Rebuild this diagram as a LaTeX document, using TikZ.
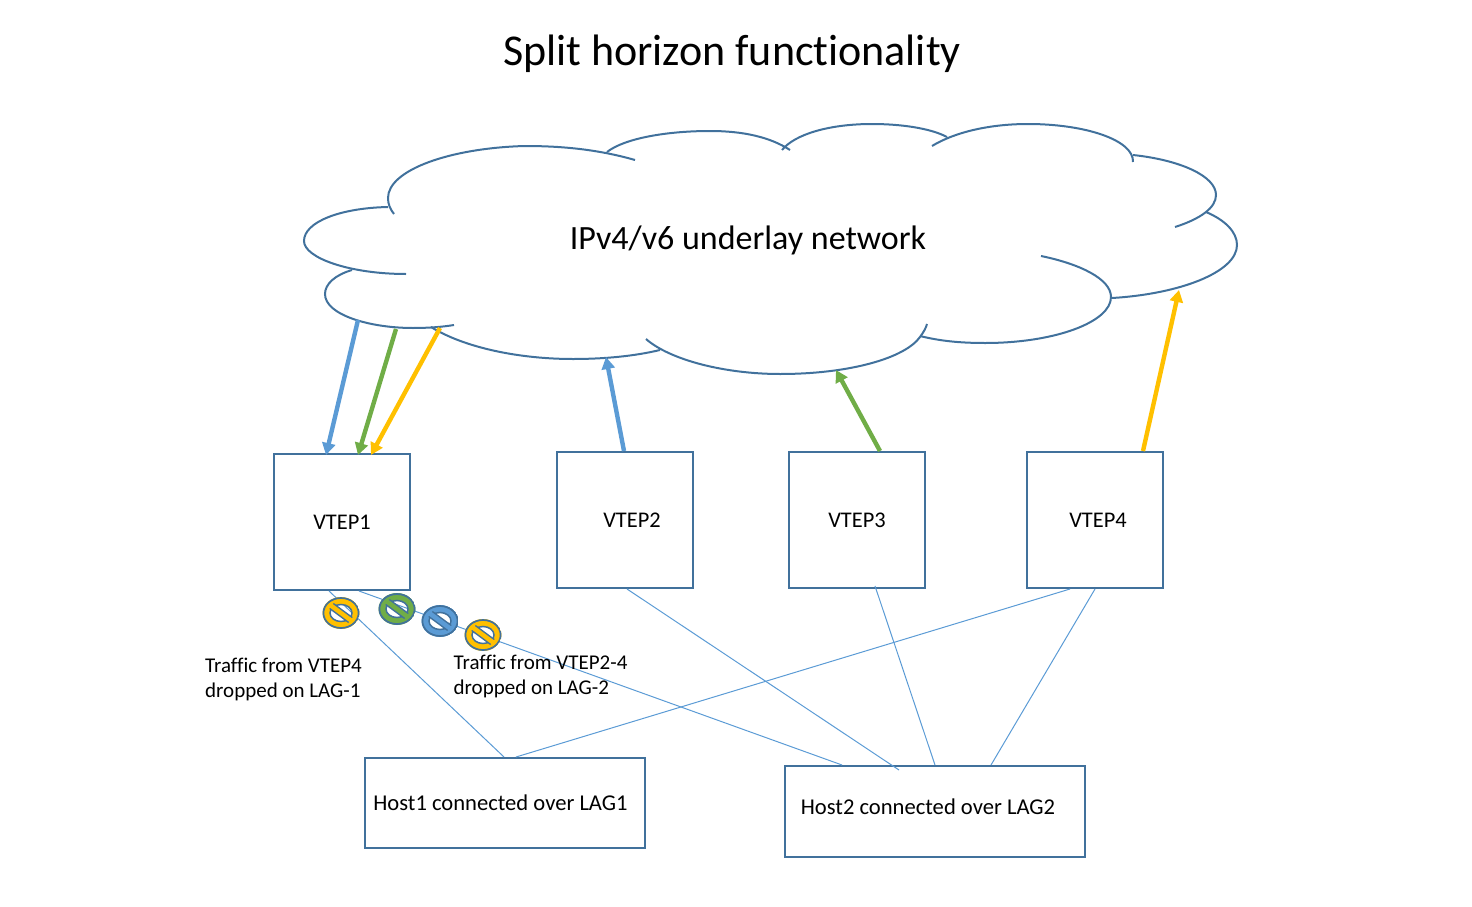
\documentclass[tikz,border=0pt]{standalone}
\usepackage{fontspec}
\setmainfont[RawFeature={-liga}]{Carlito}
\usetikzlibrary{shapes,arrows.meta,calc}
\definecolor{outline}{HTML}{41719C}
\definecolor{wireblue}{HTML}{5B9BD5}
\definecolor{flowgreen}{HTML}{70AD47}
\definecolor{flowyellow}{HTML}{FFC000}
\tikzset{
    vtepbox/.style={draw=outline, line width=2pt, minimum width=136pt, minimum height=136pt, inner sep=0pt, font=\fontsize{22.4}{26}\selectfont},
    hostbox/.style={draw=outline, line width=2pt, inner sep=0pt, font=\fontsize{22.6}{26}\selectfont},
    note/.style={align=left, anchor=west, inner sep=0pt, font=\fontsize{21}{25}\selectfont},
    cloudline/.style={draw=outline, line width=2pt},
    wire/.style={draw=wireblue, line width=1pt},
    flow/.style={line width=4.4pt, -{Triangle[length=12pt,width=13pt]}},
    nosign/.style={ellipse, minimum width=37pt, minimum height=32pt, inner sep=0pt, path picture={
        \fill[#1, even odd rule] (path picture bounding box.center) ellipse (18.5pt and 16pt) (path picture bounding box.center) ellipse (11pt and 8.5pt);
        \draw[outline, line width=1.7pt] (path picture bounding box.center) ellipse (17.6pt and 15pt);
        \draw[outline, line width=1.5pt] (path picture bounding box.center) ellipse (11pt and 8.5pt);
        \draw[outline, line width=7.5pt] (path picture bounding box.center) +(-9.5pt,7pt) -- +(9.5pt,-7pt);
        \draw[#1, line width=4.5pt] (path picture bounding box.center) +(-12pt,8.9pt) -- +(12pt,-8.9pt);
    }}
}
\begin{document}
\begin{tikzpicture}[x=1pt, y=-1pt]
    \useasboundingbox (0,0) rectangle (1472,907);

    \node (title) at (732,54) {\fontsize{44}{52}\selectfont Split horizon functionality};

    % cloud, one arc after the other
    \draw[cloudline] (635,160) .. controls (600,150) and (565,146) .. (525,146) .. controls (450,148) and (388,170) .. (388,198) .. controls (388,204) and (390,209) .. (394,214);
    \draw[cloudline] (388,207) .. controls (340,208) and (304,222) .. (304,241) .. controls (304,258) and (350,274) .. (406,274);
    \draw[cloudline] (352,270) .. controls (335,275) and (325,284) .. (325,294) .. controls (325,315) and (370,328) .. (413,328) .. controls (428,328) and (442,327) .. (454,325);
    \draw[cloudline] (431,327) .. controls (465,348) and (520,359) .. (573,359) .. controls (605,359) and (635,356) .. (660,350);
    \draw[cloudline] (646,339) .. controls (670,360) and (725,374) .. (780,374) .. controls (850,374) and (905,358) .. (920,337) .. controls (923,333) and (926,328) .. (927,324);
    \draw[cloudline] (920,336) .. controls (940,341) and (960,343) .. (985,343) .. controls (1055,343) and (1111,322) .. (1111,297) .. controls (1111,279) and (1080,264) .. (1041,256);
    \draw[cloudline] (1112,298) .. controls (1180,294) and (1237,272) .. (1237,245) .. controls (1237,232) and (1225,220) .. (1206,212);
    \draw[cloudline] (1175,227) .. controls (1200,219) and (1216,208) .. (1216,195) .. controls (1216,176) and (1180,160) .. (1133,155);
    \draw[cloudline] (1133,162) .. controls (1134,140) and (1085,124) .. (1028,124) .. controls (990,124) and (955,132) .. (932,146);
    \draw[cloudline] (947,137) .. controls (930,128) and (900,124) .. (872,124) .. controls (830,124) and (795,134) .. (782,150);
    \draw[cloudline] (607,152) .. controls (625,138) and (668,131) .. (710,131) .. controls (743,131) and (770,137) .. (790,150);
    \node (underlay) at (748,240) {\fontsize{34}{40}\selectfont IPv4/v6 underlay network};

    % ends of the arrows on the cloud
    \coordinate (c1) at (358,320);
    \coordinate (c2) at (396,329);
    \coordinate (c3) at (440,328);
    \coordinate (c4) at (606,357);
    \coordinate (c5) at (836,370);
    \coordinate (c6) at (1179,290);

    \node[vtepbox] (vtep1) at (342,522) {VTEP1};
    \node[vtepbox] (vtep2) at (625,520) {\hspace{14pt}VTEP2};
    \node[vtepbox] (vtep3) at (857,520) {VTEP3};
    \node[vtepbox] (vtep4) at (1095,520) {\hspace{6pt}VTEP4};
    \node[hostbox, minimum width=280pt, minimum height=90pt] (host1) at (505,803) {Host1 connected over LAG1\hspace{9pt}\null};
    \node[hostbox, minimum width=300pt, minimum height=91pt] (host2) at (935,811.5) {\raisebox{-3pt}[0pt][0pt]{Host2 connected over LAG2}\hspace{14pt}\null};

    \draw[wire] ([xshift=56pt]vtep1.south west) -- ([xshift=140pt]host1.north west);
    \draw[wire] ([xshift=86pt]vtep1.south west) -- ([xshift=58pt]host2.north west);
    \draw[wire] ([xshift=71pt]vtep2.south west) -- ([xshift=115pt,yshift=-5pt]host2.north west);
    \draw[wire] ([xshift=87pt,yshift=3pt]vtep3.south west) -- ([xshift=151pt]host2.north west);
    \draw[wire] ([xshift=44pt]vtep4.south west) -- ([xshift=152pt]host1.north west);
    \draw[wire] ([xshift=69pt]vtep4.south west) -- ([xshift=207pt]host2.north west);

    \draw[flow, wireblue] (c1) -- ([xshift=53pt,yshift=-2pt]vtep1.north west);
    \draw[flow, flowgreen] (c2) -- ([xshift=85pt,yshift=-2pt]vtep1.north west);
    \draw[flow, flowyellow] (c3) -- ([xshift=98pt,yshift=-2pt]vtep1.north west);
    \draw[flow, wireblue] ([xshift=68pt]vtep2.north west) -- (c4);
    \draw[flow, flowgreen] ([xshift=92pt]vtep3.north west) -- (c5);
    \draw[flow, flowyellow] ([xshift=117pt]vtep4.north west) -- (c6);

    \node[nosign=flowyellow] (drop1) at (341,613) {};
    \node[nosign=flowgreen] (drop2) at (397,609) {};
    \node[nosign=wireblue] (drop3) at (440,621) {};
    \node[nosign=flowyellow] (drop4) at (483,635) {};

    \node[note] (lag1note) at (205,679) {Traffic from VTEP4\\dropped on LAG-1};
    \node[note] (lag2note) at (453.5,676.5) {Traffic from VTEP2-4\\dropped on LAG-2};
\end{tikzpicture}
\end{document}
